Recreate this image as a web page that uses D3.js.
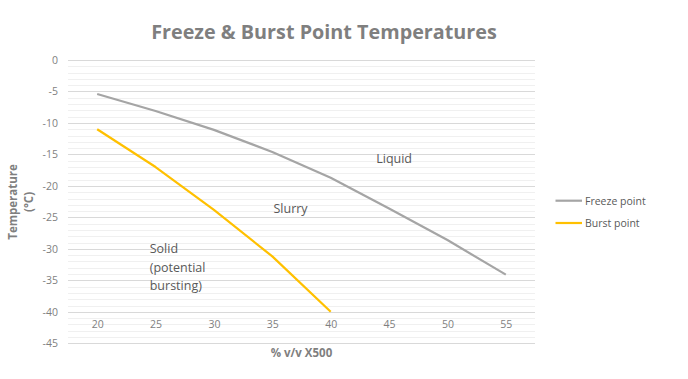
<!DOCTYPE html>
<html>
<head>
<meta charset="utf-8">
<script src="https://cdn.jsdelivr.net/npm/d3@7"></script>
<style>
  html, body { margin: 0; padding: 0; background: #fff; }
  svg { display: block; font-family: "Open Sans", "Noto Sans", sans-serif; }
</style>
</head>
<body>
<svg id="chart" width="688" height="379"></svg>
<script>
const categories = [20, 25, 30, 35, 40, 45, 50, 55];
const freezePoint = [-5.4, -8.1, -11.1, -14.6, -18.7, -23.6, -28.6, -34.1];
const burstPoint = [-11.0, -17.0, -23.8, -31.2, -40.0, null, null, null];
const yTicks = [0, -5, -10, -15, -20, -25, -30, -35, -40, -45];
const seriesNames = ["Freeze point", "Burst point"];
const seriesColors = ["#a5a5a5", "#ffc000"];
const annotations = [
  { lines: ["Liquid"], x: 43.9, y: -16.4 },
  { lines: ["Slurry"], x: 35.1, y: -24.3 },
  { lines: ["Solid", "(potential", "bursting)"], x: 24.5, y: -30.7 }
];
const titleText = "Freeze & Burst Point Temperatures";
const xTitle = "% v/v X500";
const yTitle = ["Temperature", "(°C)"];

const svg = d3.select("#chart");
const plot = { left: 68, right: 535, top: 60, bottom: 343.3 };

const x = d3.scalePoint().domain(categories).range([plot.left, plot.right]).padding(0.5);
const xLin = d3.scaleLinear().domain([17.5, 57.5]).range([plot.left, plot.right]);
const y = d3.scaleLinear().domain([0, -45]).range([plot.top, plot.bottom]);

// minor gridlines
const minor = d3.range(0, -46, -1).filter(v => v % 5 !== 0);
svg.append("g").selectAll("line").data(minor).join("line")
  .attr("x1", plot.left).attr("x2", plot.right)
  .attr("y1", d => Math.round(y(d)) + 0.5).attr("y2", d => Math.round(y(d)) + 0.5)
  .attr("stroke", "#f0f0f0").attr("stroke-width", 1);

// major gridlines
svg.append("g").selectAll("line").data(yTicks).join("line")
  .attr("x1", plot.left).attr("x2", plot.right)
  .attr("y1", d => Math.round(y(d)) + 0.5).attr("y2", d => Math.round(y(d)) + 0.5)
  .attr("stroke", "#d9d9d9").attr("stroke-width", 1);

// y axis labels
const yAxis = d3.axisLeft(y).tickValues(yTicks).tickSize(0).tickPadding(0).tickFormat(d => String(d));
const gy = svg.append("g").attr("transform", `translate(${plot.left - 10},0)`).call(yAxis);
gy.select(".domain").remove();
gy.selectAll("text").attr("fill", "#7f7f7f").style("font-size", "10.5px").style("font-family", "'Open Sans', sans-serif");

// x axis labels (positioned at the -42.5 level like the reference)
const xAxis = d3.axisBottom(x).tickSize(0).tickPadding(0);
const gx = svg.append("g").attr("transform", `translate(0,${y(-42.5) - 7})`).call(xAxis);
gx.select(".domain").remove();
gx.selectAll("text").attr("fill", "#7f7f7f").style("font-size", "10.5px").style("font-family", "'Open Sans', sans-serif");

// lines
const line = d3.line()
  .defined(d => d.v !== null)
  .x(d => x(d.c)).y(d => y(d.v));
[freezePoint, burstPoint].forEach((vals, i) => {
  const data = categories.map((c, j) => ({ c, v: vals[j] }));
  svg.append("path").datum(data)
    .attr("fill", "none")
    .attr("stroke", seriesColors[i])
    .attr("stroke-width", 2.2)
    .attr("stroke-linejoin", "round")
    .attr("d", line);
});

// annotations
annotations.forEach(a => {
  const t = svg.append("text")
    .attr("x", xLin(a.x)).attr("y", y(a.y))
    .attr("fill", "#595959").style("font-size", "12.5px");
  a.lines.forEach((l, k) => {
    t.append("tspan").attr("x", xLin(a.x)).attr("dy", k === 0 ? 0 : 18.3).text(l);
  });
});

// title
svg.append("text").attr("x", 324).attr("y", 38.5).attr("text-anchor", "middle")
  .attr("fill", "#7f7f7f").style("font-size", "19.8px").style("font-weight", "bold")
  .text(titleText);

// x title
svg.append("text").attr("x", 301.5).attr("y", 357).attr("text-anchor", "middle")
  .attr("fill", "#7f7f7f").style("font-size", "11.5px").style("font-weight", "bold")
  .text(xTitle);

// y title
const yt = svg.append("text").attr("transform", "translate(17,202) rotate(-90)")
  .attr("text-anchor", "middle").attr("fill", "#7f7f7f")
  .style("font-size", "11.5px").style("font-weight", "bold");
yt.append("tspan").attr("x", 0).attr("dy", 0).text(yTitle[0]);
yt.append("tspan").attr("x", 0).attr("dy", 16).text(yTitle[1]);

// legend
const lg = svg.append("g");
seriesNames.forEach((n, i) => {
  const ly = 200.7 + i * 22.3;
  lg.append("line").attr("x1", 555.5).attr("x2", 582).attr("y1", ly).attr("y2", ly)
    .attr("stroke", seriesColors[i]).attr("stroke-width", 2.2);
  lg.append("text").attr("x", 585).attr("y", ly + 4)
    .attr("fill", "#595959").style("font-size", "10.5px").text(n);
});
</script>
</body>
</html>
